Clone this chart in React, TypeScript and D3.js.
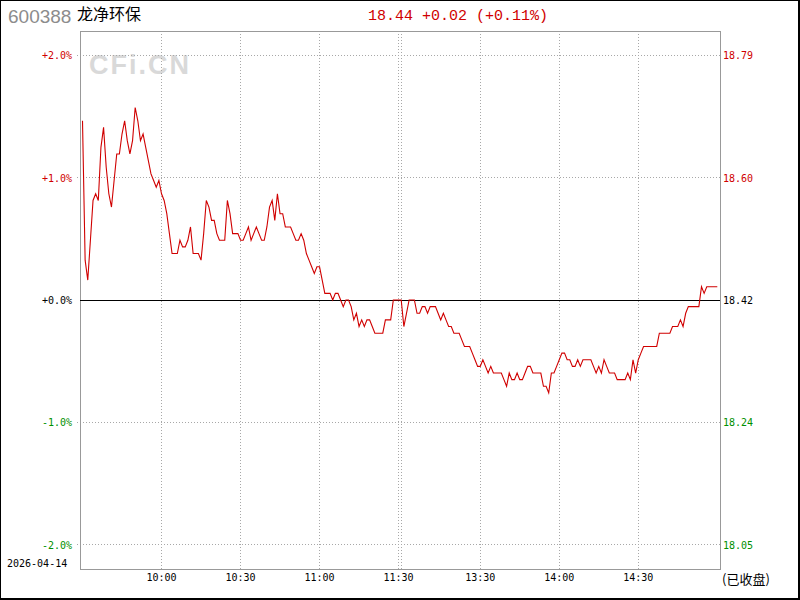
import React from "react";
import * as d3 from "d3";

const prevClose = 18.42;
const closePrice = 18.44;

// 09:30 - 11:30 (121 minute points)
const morningPrices = [
  18.69, 18.48, 18.45, 18.51, 18.57, 18.58, 18.57, 18.65, 18.68, 18.62,
  18.58, 18.56, 18.60, 18.64, 18.64, 18.67, 18.69, 18.66, 18.64, 18.66,
  18.71, 18.69, 18.66, 18.67, 18.65, 18.63, 18.61, 18.60, 18.59, 18.60,
  18.58, 18.57, 18.55, 18.52, 18.49, 18.49, 18.49, 18.51, 18.50, 18.50,
  18.51, 18.53, 18.49, 18.49, 18.49, 18.48, 18.52, 18.57, 18.56, 18.54,
  18.54, 18.52, 18.51, 18.51, 18.51, 18.57, 18.55, 18.52, 18.52, 18.52,
  18.51, 18.51, 18.52, 18.53, 18.51, 18.52, 18.53, 18.52, 18.51, 18.51,
  18.53, 18.56, 18.57, 18.54, 18.58, 18.55, 18.55, 18.53, 18.53, 18.53,
  18.52, 18.51, 18.51, 18.52, 18.51, 18.49, 18.48, 18.47, 18.46, 18.47,
  18.47, 18.45, 18.43, 18.43, 18.43, 18.42, 18.43, 18.43, 18.42, 18.41,
  18.42, 18.42, 18.41, 18.39, 18.40, 18.38, 18.39, 18.38, 18.39, 18.39,
  18.38, 18.37, 18.37, 18.37, 18.37, 18.39, 18.39, 18.39, 18.42, 18.42,
  18.42,
];

// 13:00 - 15:00 (121 minute points)
const afternoonPrices = [
  18.42, 18.38, 18.40, 18.42, 18.42, 18.42, 18.40, 18.40, 18.41,
  18.41, 18.40, 18.41, 18.41, 18.41, 18.40, 18.39, 18.40, 18.39, 18.38,
  18.38, 18.37, 18.37, 18.37, 18.36, 18.35, 18.35, 18.35, 18.34, 18.33,
  18.32, 18.32, 18.33, 18.32, 18.31, 18.32, 18.31, 18.31, 18.31, 18.31,
  18.30, 18.29, 18.31, 18.30, 18.30, 18.31, 18.30, 18.30, 18.31, 18.32,
  18.32, 18.31, 18.31, 18.31, 18.31, 18.29, 18.29, 18.28, 18.31, 18.31,
  18.32, 18.33, 18.34, 18.34, 18.33, 18.33, 18.32, 18.32, 18.33, 18.32,
  18.33, 18.33, 18.33, 18.33, 18.32, 18.31, 18.32, 18.31, 18.33, 18.32,
  18.31, 18.31, 18.31, 18.30, 18.30, 18.30, 18.30, 18.31, 18.30, 18.33,
  18.31, 18.33, 18.34, 18.35, 18.35, 18.35, 18.35, 18.35, 18.35, 18.37,
  18.37, 18.37, 18.37, 18.37, 18.38, 18.38, 18.38, 18.39, 18.38, 18.40,
  18.41, 18.41, 18.41, 18.41, 18.41, 18.44, 18.43, 18.44, 18.44, 18.44,
  18.44, 18.44,
];

const pctTicks = [2, 1, 0, -1, -2];
const pctLabels = ["+2.0%", "+1.0%", "+0.0%", "-1.0%", "-2.0%"];
const priceLabels = ["18.79", "18.60", "18.42", "18.24", "18.05"];
const gridTimes = ["10:00", "10:30", "11:00", "11:30", "13:00", "13:30", "14:00", "14:30"];
const timeLabels = ["10:00", "10:30", "11:00", "11:30", "13:30", "14:00", "14:30"];

const stockCode = "600388";
const stockName = "龙净环保";
const tradeDate = "2026-04-14";
const statusText = "(已收盘)";

const RED = "#d00000";
const GREEN = "#009000";
const MONO = "'DejaVu Sans Mono', 'Liberation Mono', monospace";
const CJK = "'Noto Sans CJK SC', 'Noto Sans', sans-serif";

function timeIndex(t: string): number {
  const [h, m] = t.split(":").map(Number);
  const mins = h * 60 + m;
  if (mins <= 11 * 60 + 30) return mins - (9 * 60 + 30);
  return 121 + mins - 13 * 60;
}

export default function App() {
  const W = 800, H = 600;
  const left = 80, right = 720, top = 31, bottom = 569;
  const prices = [...morningPrices, ...afternoonPrices];
  const x = d3.scaleLinear().domain([0, 241]).range([82.5, 717.3]);
  const y = d3.scaleLinear().domain([-2.2, 2.2]).range([bottom, top]);
  const pct = (p: number) => ((p - prevClose) / prevClose) * 100;
  const linePath = d3.line<number>()
    .x((_, i) => x(i))
    .y((p) => y(pct(p)))(prices) || "";

  const chg = closePrice - prevClose;
  const chgPct = (chg / prevClose) * 100;
  const headerText = `${closePrice.toFixed(2)} ${chg >= 0 ? "+" : ""}${chg.toFixed(2)} (${chg >= 0 ? "+" : ""}${chgPct.toFixed(2)}%)`;

  const colorFor = (v: number) => (v > 0 ? RED : v < 0 ? GREEN : "#000");
  const crisp = (v: number) => Math.floor(v) + 0.5;

  return (
    <svg width={W} height={H} style={{ position: "fixed", left: 0, top: 0, background: "#fff" }}>
      <rect x={0} y={0} width={W} height={H} fill="#fff" />
      {/* watermark */}
      <text x={89} y={74} fontFamily="'Liberation Sans', Arial, sans-serif" fontWeight="bold"
        fontSize={27} letterSpacing={2} fill="#d9d9d9">CFi.CN</text>

      {/* horizontal grid */}
      {pctTicks.map((t) => t !== 0 && (
        <line key={"h" + t} x1={77} x2={right} y1={crisp(y(t))} y2={crisp(y(t))}
          stroke="#a8a8a8" strokeDasharray="1,2" shapeRendering="crispEdges" />
      ))}
      {/* vertical grid */}
      {gridTimes.map((t) => (
        <line key={"v" + t} x1={crisp(x(timeIndex(t)))} x2={crisp(x(timeIndex(t)))} y1={top} y2={bottom}
          stroke="#a8a8a8" strokeDasharray="1,2" shapeRendering="crispEdges" />
      ))}
      {/* frame */}
      <rect x={left + 0.5} y={top + 0.5} width={right - left} height={bottom - top}
        fill="none" stroke="#999" shapeRendering="crispEdges" />
      {/* zero line */}
      <line x1={left} x2={right} y1={crisp(y(0))} y2={crisp(y(0))} stroke="#000" shapeRendering="crispEdges" />

      {/* price line */}
      <path d={linePath} fill="none" stroke={RED} strokeWidth={1.1} />

      {/* left labels */}
      {pctTicks.map((t, i) => (
        <text key={"l" + t} x={72} y={y(t) + 4} textAnchor="end" fontFamily={MONO} fontSize={10}
          fill={colorFor(t)}>{pctLabels[i]}</text>
      ))}
      {/* right labels */}
      {pctTicks.map((t, i) => (
        <text key={"r" + t} x={723} y={y(t) + 4} fontFamily={MONO} fontSize={10}
          fill={colorFor(t)}>{priceLabels[i]}</text>
      ))}
      {/* time labels */}
      {timeLabels.map((t) => (
        <text key={"t" + t} x={x(timeIndex(t))} y={581} textAnchor="middle" fontFamily={MONO}
          fontSize={10} fill="#000">{t}</text>
      ))}
      <text x={7} y={567} fontFamily={MONO} fontSize={10} fill="#000">{tradeDate}</text>
      <text x={722} y={584} fontFamily={CJK} fontSize={13} fill="#000">{statusText}</text>

      {/* header */}
      <text x={8} y={23} fontFamily="'Liberation Sans', Arial, sans-serif" fontSize={19} fill="#8c8c8c">{stockCode}</text>
      <text x={77} y={20} fontFamily={CJK} fontSize={16} fill="#000">{stockName}</text>
      <text x={368} y={20} fontFamily="'Liberation Mono', monospace" fontSize={15} fill={RED}>{headerText}</text>

      {/* outer border */}
      <rect x={0.5} y={0.5} width={W - 1} height={H - 1} fill="none" stroke="#000" shapeRendering="crispEdges" />
      <line x1={798.5} x2={798.5} y1={0} y2={H} stroke="#000" shapeRendering="crispEdges" />
      <line x1={0} x2={W} y1={598.5} y2={598.5} stroke="#000" shapeRendering="crispEdges" />
    </svg>
  );
}
